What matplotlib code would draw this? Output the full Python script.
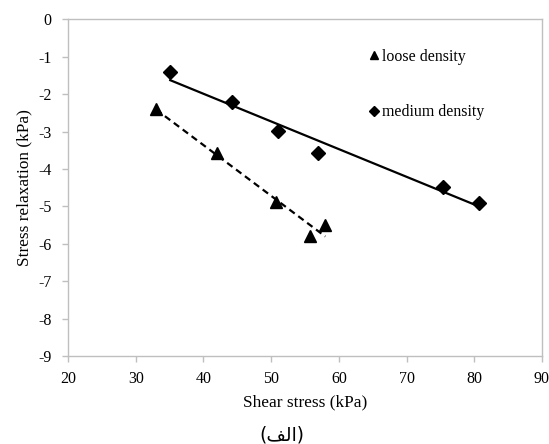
import numpy as np
import matplotlib
matplotlib.use("Agg")
import matplotlib.pyplot as plt
from matplotlib.lines import Line2D

# Data
loose_x = [33.0, 42.0, 50.7, 55.7, 58.0]
loose_y = [-2.40, -3.57, -4.89, -5.79, -5.50]
medium_x = [35.1, 44.2, 51.0, 56.9, 75.4, 80.7]
medium_y = [-1.42, -2.22, -2.98, -3.57, -4.47, -4.92]
x_ticks = [20, 30, 40, 50, 60, 70, 80, 90]
y_ticks = [0, -1, -2, -3, -4, -5, -6, -7, -8, -9]
labels = ["loose density", "medium density"]

serif = "Liberation Serif"
fig = plt.figure(figsize=(5.49, 4.44), dpi=100)
ax = fig.add_axes([0.1239, 0.198, 0.8633, 0.7585])

# Trendlines (linear fits)
lp = np.polyfit(loose_x, loose_y, 1)
mp = np.polyfit(medium_x, medium_y, 1)
lx = np.array([min(loose_x), max(loose_x)])
mx = np.array([min(medium_x), max(medium_x)])
ax.plot(lx, np.polyval(lp, lx), color="black", lw=1.6, ls=(0, (3, 2)), zorder=2)
ax.plot(mx, np.polyval(mp, mx), color="black", lw=1.6, zorder=2)

ax.plot(loose_x, loose_y, ls="none", marker="^", ms=8, color="black", zorder=3)
ax.plot(medium_x, medium_y, ls="none", marker="D", ms=7, color="black", zorder=3)

ax.set_xlim(20, 90)
ax.set_ylim(-9, 0)
ax.set_xticks(x_ticks)
ax.set_yticks(y_ticks)
ax.set_xticklabels([str(v) for v in x_ticks], fontname=serif, fontsize=11.5)
ax.set_yticklabels([str(v) for v in y_ticks], fontname=serif, fontsize=11.5)
for s in ax.spines.values():
    s.set_color("#bfbfbf")
    s.set_linewidth(1.0)
ax.tick_params(axis="x", direction="out", length=4, width=1, color="#bfbfbf", pad=7)
ax.tick_params(axis="y", direction="out", length=4, width=1, color="#bfbfbf", pad=8)

ax.set_xlabel("Shear stress (kPa)", fontname=serif, fontsize=12.4, labelpad=5)
ax.set_ylabel("Stress relaxation (kPa)", fontname=serif, fontsize=12.4, labelpad=4)

handles = [Line2D([], [], ls="none", marker="^", ms=6, color="black"),
           Line2D([], [], ls="none", marker="D", ms=5, color="black")]
leg = ax.legend(handles, labels, loc="upper left", bbox_to_anchor=(0.605, 0.955),
                frameon=False, handlelength=0.6, handletextpad=0.25,
                labelspacing=2.5, prop={"family": serif, "size": 11.4})

# Arabic caption, pre-shaped presentation forms in visual order
fig.text(0.514, 0.02, "(\ufed2\ufedf\ufe8d)", ha="center", va="center",
         family="DejaVu Sans", fontsize=13.5)

fig.savefig("out.png", dpi=100)
